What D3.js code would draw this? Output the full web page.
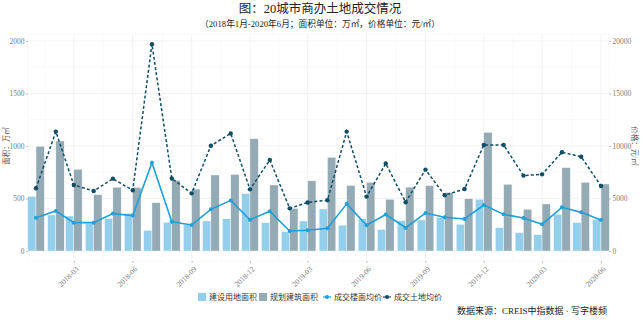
<!DOCTYPE html>
<html>
<head>
<meta charset="utf-8">
<script src="https://cdn.jsdelivr.net/npm/d3@7"></script>
<style>
  body { margin: 0; background: #fff; }
  text { font-family: "Liberation Serif", "Noto Sans CJK SC", serif; }
</style>
</head>
<body>
<div id="chart"></div>
<script>
// months 2018-01 .. 2020-06
const months = ["2018-01","2018-02","2018-03","2018-04","2018-05","2018-06","2018-07","2018-08","2018-09","2018-10","2018-11","2018-12",
  "2019-01","2019-02","2019-03","2019-04","2019-05","2019-06","2019-07","2019-08","2019-09","2019-10","2019-11","2019-12",
  "2020-01","2020-02","2020-03","2020-04","2020-05","2020-06"];
// 建设用地面积 (万㎡)
const landArea = [520, 343, 333, 263, 311, 359, 197, 274, 252, 286, 308, 546, 270, 184, 286, 400, 246, 306, 205, 290, 295, 321, 254, 492, 222, 175, 156, 349, 270, 302];
// 规划建筑面积 (万㎡)
const buildArea = [997, 1048, 778, 536, 606, 606, 460, 673, 590, 724, 730, 1070, 629, 406, 668, 892, 624, 654, 492, 608, 622, 557, 498, 1130, 635, 397, 448, 794, 654, 638];
// 成交楼面均价 (元/㎡)
const floorPrice = [3170, 3810, 2700, 2700, 3560, 3370, 8410, 2790, 2480, 3970, 4820, 2980, 3780, 1910, 1970, 2160, 4490, 2460, 3480, 2220, 3620, 3210, 3050, 4380, 3490, 3140, 2540, 4160, 3680, 2950];
// 成交土地均价 (元/㎡)
const landPrice = [5970, 11370, 6290, 5710, 6890, 5780, 19700, 6900, 5490, 10030, 11200, 5870, 8670, 4060, 4620, 4840, 11370, 5180, 8330, 4650, 7750, 5320, 5900, 10100, 10100, 7180, 7300, 9400, 8980, 6190];

const leftTicks = [0, 500, 1000, 1500, 2000];
const rightTicks = [0, 5000, 10000, 15000, 20000];
const xTickLabels = ["2018-03","2018-06","2018-09","2018-12","2019-03","2019-06","2019-09","2019-12","2020-03","2020-06"];

let width = 641, height = 320;
let panel = { left: 28, right: 609, top: 34, bottom: 261 };

const parse = d3.timeParse("%Y-%m");
const data = months.map((m, i) => ({
  date: parse(m), land: landArea[i], build: buildArea[i], floor: floorPrice[i], price: landPrice[i]
}));

let svg = d3.select('#chart').append('svg')
  .attr('width', width).attr('height', height)
  .style('background', '#fff');

let x = d3.scaleTime()
  .domain([new Date(2017, 11, 19, 12), new Date(2020, 5, 13, 12)])
  .range([panel.left, panel.right]);
let yL = d3.scaleLinear().domain([0, 2000]).range([251, 41]);
let yR = d3.scaleLinear().domain([0, 20000]).range([251, 41]);

// grid
const g = svg.append('g');
g.append('rect')
  .attr('x', panel.left).attr('y', panel.top)
  .attr('width', panel.right - panel.left).attr('height', panel.bottom - panel.top)
  .attr('fill', 'none').attr('stroke', '#f3f3f3').attr('stroke-width', 0.6);
const minorY = [250, 750, 1250, 1750];
g.selectAll('.minY').data(minorY).enter().append('line')
  .attr('x1', panel.left).attr('x2', panel.right)
  .attr('y1', d => yL(d)).attr('y2', d => yL(d))
  .attr('stroke', '#f5f5f5').attr('stroke-width', 0.6);
g.selectAll('.majY').data(leftTicks).enter().append('line')
  .attr('x1', panel.left).attr('x2', panel.right)
  .attr('y1', d => yL(d)).attr('y2', d => yL(d))
  .attr('stroke', '#ececec').attr('stroke-width', 0.7);
const tickDates = xTickLabels.map(parse);
const minorX = [];
for (let i = 0; i < tickDates.length; i++) {
  const prev = i === 0 ? d3.timeMonth.offset(tickDates[0], -3) : tickDates[i - 1];
  minorX.push(new Date((prev.getTime() + tickDates[i].getTime()) / 2));
}
g.selectAll('.minX').data(minorX).enter().append('line')
  .attr('x1', d => x(d)).attr('x2', d => x(d))
  .attr('y1', panel.top).attr('y2', panel.bottom)
  .attr('stroke', '#f5f5f5').attr('stroke-width', 0.6);
g.selectAll('.majX').data(tickDates).enter().append('line')
  .attr('x1', d => x(d)).attr('x2', d => x(d))
  .attr('y1', panel.top).attr('y2', panel.bottom)
  .attr('stroke', '#ececec').attr('stroke-width', 0.7);

// bars
const halfW = d => x(d3.timeDay.offset(d, 13)) - x(d);
svg.selectAll('.land').data(data).enter().append('rect')
  .attr('x', d => x(d.date) - halfW(d.date))
  .attr('y', d => yL(d.land))
  .attr('width', d => halfW(d.date))
  .attr('height', d => yL(0) - yL(d.land))
  .attr('fill', '#93cfea').attr('stroke', '#fff').attr('stroke-width', 0.4);
svg.selectAll('.build').data(data).enter().append('rect')
  .attr('x', d => x(d.date))
  .attr('y', d => yL(d.build))
  .attr('width', d => halfW(d.date))
  .attr('height', d => yL(0) - yL(d.build))
  .attr('fill', '#94aab5').attr('stroke', '#fff').attr('stroke-width', 0.4);

// lines
const lineFloor = d3.line().x(d => x(d.date)).y(d => yR(d.floor));
const linePrice = d3.line().x(d => x(d.date)).y(d => yR(d.price));
svg.append('path').datum(data).attr('d', lineFloor)
  .attr('fill', 'none').attr('stroke', '#1ea0da').attr('stroke-width', 1.6);
svg.selectAll('.pf').data(data).enter().append('circle')
  .attr('cx', d => x(d.date)).attr('cy', d => yR(d.floor)).attr('r', 2)
  .attr('fill', '#1ea0da');
svg.append('path').datum(data).attr('d', linePrice)
  .attr('fill', 'none').attr('stroke', '#0f4c66').attr('stroke-width', 1.5)
  .attr('stroke-dasharray', '3,2.2');
svg.selectAll('.pp').data(data).enter().append('circle')
  .attr('cx', d => x(d.date)).attr('cy', d => yR(d.price)).attr('r', 2.2)
  .attr('fill', '#0f4c66');

// axes
let yAxisL = svg.append('g')
  .attr('transform', `translate(${panel.left},0)`)
  .call(d3.axisLeft(yL).tickValues(leftTicks).tickFormat(d3.format('d')).tickSize(2).tickPadding(1.5));
let yAxisR = svg.append('g')
  .attr('transform', `translate(${panel.right},0)`)
  .call(d3.axisRight(yR).tickValues(rightTicks).tickFormat(d3.format('d')).tickSize(2).tickPadding(1.5));
let xAxis = svg.append('g')
  .attr('transform', `translate(0,${panel.bottom})`)
  .call(d3.axisBottom(x).tickValues(tickDates).tickFormat(d3.timeFormat("%Y-%m")).tickSize(2).tickPadding(2));
[yAxisL, yAxisR, xAxis].forEach(a => {
  a.select('.domain').remove();
  a.selectAll('line').attr('stroke', '#999').attr('stroke-width', 0.6);
  a.selectAll('text').attr('fill', '#7a7a7a').style('font-size', '7.5px');
});
xAxis.selectAll('text')
  .style('text-anchor', 'end')
  .attr('dy', '0.35em')
  .attr('transform', 'translate(0,4) rotate(-45)');

// axis titles
svg.append('text')
  .attr('transform', 'translate(6.5,146) rotate(-90)')
  .attr('dominant-baseline', 'central')
  .style('text-anchor', 'middle').style('font-size', '7.5px').attr('fill', '#555')
  .text('面积：万㎡');
svg.append('text')
  .attr('transform', 'translate(634,146) rotate(90)')
  .attr('dominant-baseline', 'central')
  .style('text-anchor', 'middle').style('font-size', '7.5px').attr('fill', '#555')
  .text('价格：元/㎡');

// titles
svg.append('text')
  .attr('x', 320).attr('y', 13)
  .style('text-anchor', 'middle').style('font-size', '12.5px').attr('fill', '#222')
  .text('图：20城市商办土地成交情况');
svg.append('text')
  .attr('x', 320).attr('y', 27)
  .style('text-anchor', 'middle').style('font-size', '8.7px').attr('fill', '#222')
  .text('（2018年1月-2020年6月；面积单位：万㎡，价格单位：元/㎡）');

// legend
const legendItems = [
  { label: '建设用地面积', type: 'bar', color: '#93cfea', x: 198 },
  { label: '规划建筑面积', type: 'bar', color: '#94aab5', x: 259 },
  { label: '成交楼面均价', type: 'line', color: '#1ea0da', x: 323 },
  { label: '成交土地均价', type: 'line', color: '#0f4c66', x: 383 }
];
const legY = 297;
const legend = svg.selectAll('.legend').data(legendItems).enter().append('g')
  .attr('transform', d => `translate(${d.x},${legY})`);
legend.filter(d => d.type === 'bar').append('rect')
  .attr('x', 0).attr('y', -4).attr('width', 8).attr('height', 8)
  .attr('fill', d => d.color);
legend.filter(d => d.type === 'line').append('line')
  .attr('x1', 0).attr('x2', 8).attr('y1', 0).attr('y2', 0)
  .attr('stroke', d => d.color).attr('stroke-width', 1.2);
legend.filter(d => d.type === 'line').append('circle')
  .attr('cx', 4).attr('cy', 0).attr('r', 2)
  .attr('fill', d => d.color);
legend.append('text')
  .attr('x', 11).attr('y', 3)
  .style('font-size', '8px').attr('fill', '#333')
  .text(d => d.label);

// source
svg.append('text')
  .attr('x', 607).attr('y', 314)
  .style('text-anchor', 'end').style('font-size', '9px').attr('fill', '#222')
  .text('数据来源：CREIS中指数据 · 写字楼频');
</script>
</body>
</html>
